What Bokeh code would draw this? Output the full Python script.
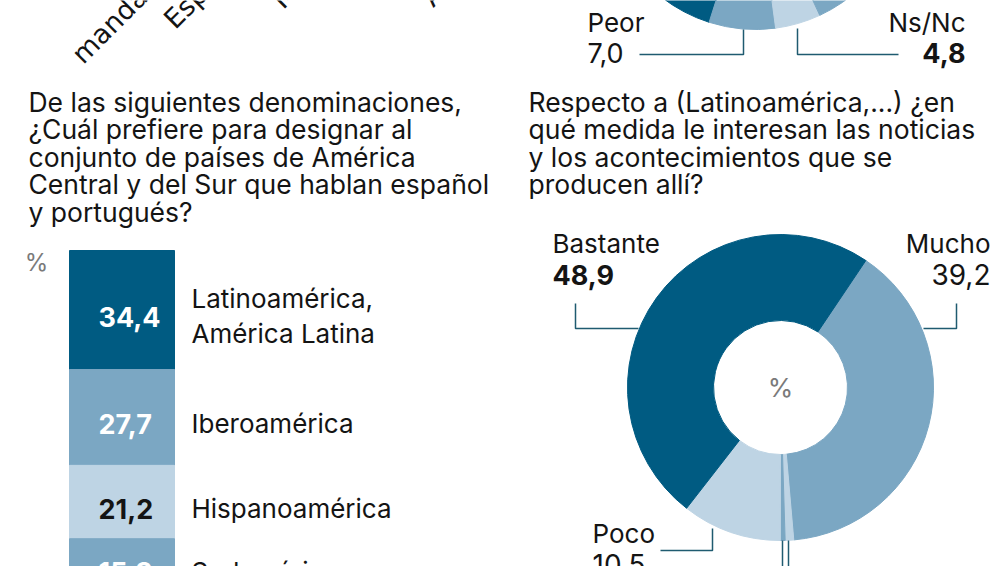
import math
from bokeh.plotting import figure
from bokeh.models import Range1d, ColumnDataSource
from bokeh.embed import file_html
from bokeh.resources import INLINE
from bokeh.core.properties import value

# ---------------- data ----------------
axis_labels = ["mandatarios", "España", "Medios", "Ambos"]

top_categories = ["Mejor", "Peor", "Ns/Nc", "Igual"]
top_values = [45.1, 7.0, 4.8, 43.1]

name_categories = ["Latinoamérica,\nAmérica Latina", "Iberoamérica", "Hispanoamérica", "Sudamérica"]
name_values = [34.4, 27.7, 21.2, 15.3]

interest_categories = ["Mucho", "Nada", "Ns/Nc", "Poco", "Bastante"]
interest_values = [39.2, 0.9, 0.5, 10.5, 48.9]

title_left = ["De las siguientes denominaciones,", "¿Cuál prefiere para designar al",
              "conjunto de países de América", "Central y del Sur que hablan español",
              "y portugués?"]
title_right = ["Respecto a (Latinoamérica,...) ¿en", "qué medida le interesan las noticias",
               "y los acontecimientos que se", "producen allí?"]

# ---------------- style ----------------
DARK, MED, LIGHT = "#005b82", "#7ba7c3", "#bed4e4"
LEAD = "#1f5b70"
INK = "#141414"
FONT = "Inter"
W, H = 1006, 566


def Y(iy):
    return H - iy


def fmt(v):
    return f"{v:.1f}".replace(".", ",")


p = figure(width=W, height=H, x_range=Range1d(0, W), y_range=Range1d(0, H),
           output_backend="svg", toolbar_location=None, min_border=0,
           x_axis_location=None, y_axis_location=None)
p.grid.visible = False
p.outline_line_color = None
p.background_fill_color = "white"
p.border_fill_color = "white"

# bar chart percent scale: 0% at y=250 (image), 3.46 px per percent, growing downwards
BAR_TOP, PX = 250, 3.46
p.extra_y_ranges = {"bar": Range1d(start=Y(BAR_TOP) / PX, end=(Y(BAR_TOP) - H) / PX)}

# ---------- rotated axis labels of the cut chart above ----------
p.text(x=[76, 168, 276, 426], y=[Y(58), Y(23), Y(3), Y(1)], text=axis_labels,
       angle=math.pi / 4, text_font=value("DejaVu Sans"), text_font_size="27px",
       text_color=INK, text_align="left", text_baseline="alphabetic")

# ---------- donut helper ----------
def donut(cx, cy, values, colors, start_deg_cw, clockwise):
    th0 = math.pi / 2 - math.radians(start_deg_cw)
    starts, ends = [], []
    cum = 0.0
    sgn = -1 if clockwise else 1
    for v in values:
        starts.append(th0 + sgn * 2 * math.pi * cum / 100)
        cum += v
        ends.append(th0 + sgn * 2 * math.pi * cum / 100)
    src = ColumnDataSource(dict(start=starts, end=ends, color=colors))
    p.annular_wedge(x=cx, y=cy, inner_radius=67, outer_radius=153,
                    start_angle="start", end_angle="end", color="color",
                    direction="clock" if clockwise else "anticlock", source=src)

# top donut (mostly cut off)
donut(755, Y(-124), top_values, [DARK, MED, LIGHT, MED], 0, False)

# interest donut
donut(780, Y(387), interest_values, [MED, LIGHT, MED, LIGHT, DARK], 33.9, True)

# ---------- leader lines ----------
leaders_x = [[743, 743, 639], [797, 797, 898],
             [575, 575, 638], [956, 956, 923], [712, 712, 660],
             [782, 782], [788, 788]]
leaders_y = [[29, 54, 54], [28, 54, 54],
             [303, 328, 328], [303, 328, 328], [528, 550, 550],
             [540, 580], [540, 580]]
p.multi_line(xs=leaders_x, ys=[[Y(v) for v in ys] for ys in leaders_y],
             line_color=LEAD, line_width=1.5)

# ---------- labels ----------
def label(x, iy, txt, align="left", bold=False, size="26px", color=INK):
    p.text(x=[x], y=[Y(iy)], text=[txt], text_font=value(FONT), text_font_size=size,
           text_color=color, text_align=align, text_baseline="middle",
           text_font_style="bold" if bold else "normal")

label(587, 22, top_categories[1])
label(587, 52, fmt(top_values[1]), size="27px")
label(965, 22, top_categories[2], align="right")
label(965, 52, fmt(top_values[2]), align="right", bold=True, size="27px")

label(552, 243, interest_categories[4])
label(552, 274, fmt(interest_values[4]), bold=True, size="27px")
label(990, 243, interest_categories[0], align="right")
label(990, 274, fmt(interest_values[0]), align="right", size="28px")
label(592, 533, interest_categories[3])
label(592, 564, fmt(interest_values[3]), size="28px")
label(780, 387, "%", align="center", color="#7a7a7a", size="26px")

# ---------- titles ----------
for i, t in enumerate(title_left):
    label(28, 101 + 27.5 * i, t, size="26.5px")
for i, t in enumerate(title_right):
    label(528, 101 + 27.5 * i, t, size="26.5px")

# ---------- stacked bar ----------
label(36, 262, "%", align="center", color="#7a7a7a", size="24px")
bottoms, tops = [], []
cum = 0.0
for v in name_values:
    bottoms.append(cum)
    cum += v
    tops.append(cum)
mids = [(a + b) / 2 for a, b in zip(bottoms, tops)]
bar_colors = [DARK, MED, LIGHT, MED]
num_colors = ["white", "white", INK, "white"]
bsrc = ColumnDataSource(dict(x=[121.5] * len(name_values), bottom=bottoms, top=tops,
                             mid=mids, color=bar_colors, ncolor=num_colors,
                             num=[fmt(v) for v in name_values], cat=name_categories))
p.vbar(x="x", width=105, bottom="bottom", top="top", color="color",
       source=bsrc, y_range_name="bar")
p.text(x=98, y="mid", text="num", source=bsrc, y_range_name="bar",
       text_font=value(FONT), text_font_size="27px", text_font_style="bold",
       text_color="ncolor", text_align="left", text_baseline="middle", y_offset=7)
p.text(x=191, y="mid", text="cat", source=bsrc, y_range_name="bar",
       text_font=value(FONT), text_font_size="26px", text_color=INK,
       text_align="left", text_baseline="middle", y_offset=6, text_line_height=1.1)

open("out.html", "w").write(file_html(p, INLINE))
